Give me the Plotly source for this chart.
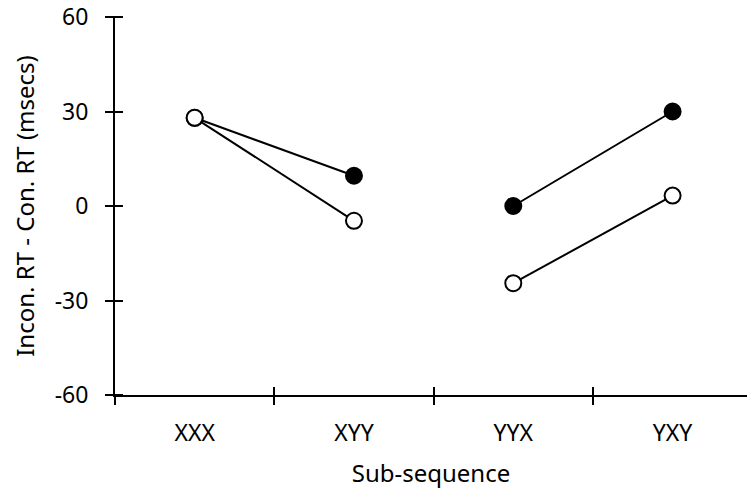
import plotly.graph_objects as go

categories = ["XXX", "XYY", "YYX", "YXY"]
filled_vals = [28, 9.6, 0, 30]
open_vals = [28, -4.7, -24.5, 3.3]
segments = [[0, 1], [2, 3]]  # connected pairs of categories
y_ticks = [-60, -30, 0, 30, 60]
y_tick_text = ["-60", "-30", "0", "30", "60"]

def with_gaps(vals):
    xs, ys = [], []
    for k, seg in enumerate(segments):
        if k:
            xs.append(None); ys.append(None)
        for i in seg:
            xs.append(categories[i]); ys.append(vals[i])
    return xs, ys

FONT = "Noto Sans"
PLOT_W = 747 - 115
fig = go.Figure()
fx, fy = with_gaps(filled_vals)
ox, oy = with_gaps(open_vals)
fig.add_trace(go.Scatter(x=fx, y=fy, mode="lines+markers", connectgaps=False,
                         line=dict(color="black", width=2),
                         marker=dict(size=16, color="black", line=dict(color="black", width=2)),
                         showlegend=False, xaxis="x", yaxis="y"))
fig.add_trace(go.Scatter(x=ox, y=oy, mode="lines+markers", connectgaps=False,
                         line=dict(color="black", width=2),
                         marker=dict(size=16, color="white", line=dict(color="black", width=2)),
                         showlegend=False, xaxis="x2", yaxis="y2"))

xr = [-0.5, 3.467]
common_x = dict(type="category", categoryorder="array", categoryarray=categories,
                range=xr, tickson="boundaries", ticklen=8, tickwidth=2, tickcolor="black",
                showgrid=False, zeroline=False, fixedrange=True)
common_y = dict(range=[-60, 60], tickmode="array", tickvals=y_ticks, ticktext=y_tick_text,
                tickwidth=2, tickcolor="black",
                showgrid=False, zeroline=False, fixedrange=True)

fig.update_layout(
    width=747, height=497,
    margin=dict(l=115, r=0, t=17, b=102),
    paper_bgcolor="white", plot_bgcolor="white",
    font=dict(family=FONT, size=24, color="black"),
    xaxis=dict(**common_x, ticks="outside", showline=True, linecolor="black", linewidth=2,
               ticklabelstandoff=16, tickfont=dict(size=23),
               title=dict(text="Sub-sequence", standoff=19, font=dict(size=24))),
    yaxis=dict(**common_y, ticks="outside", ticklen=8, showline=True, linecolor="black",
               linewidth=2, ticklabelstandoff=12, tickfont=dict(size=23),
               ticklabeloverflow="allow",
               title=dict(text="Incon. RT - Con. RT (msecs)", standoff=13, font=dict(size=24))),
    xaxis2=dict(**common_x, ticks="inside", overlaying="x", anchor="y2",
                side="bottom", showticklabels=False, showline=False),
    yaxis2=dict(**common_y, ticks="outside", ticklen=16, overlaying="y", anchor="free",
                position=8 / PLOT_W, side="left", showticklabels=False, showline=False),
)

fig.write_html("out.html")
